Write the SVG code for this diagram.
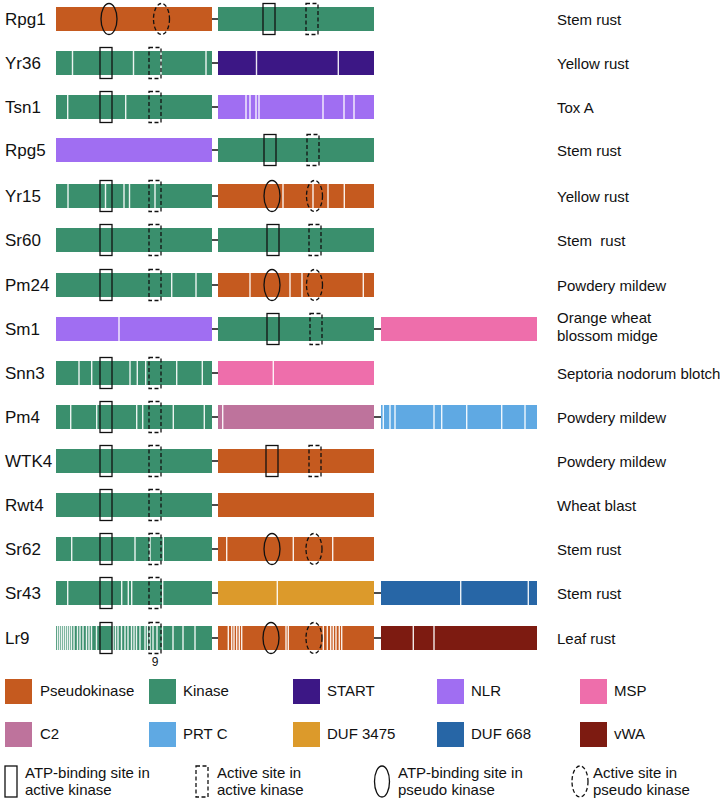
<svg xmlns="http://www.w3.org/2000/svg" width="720" height="799" viewBox="0 0 720 799">
<style>
text{font-family:"Liberation Sans",Arial,Helvetica,sans-serif;fill:#111}
.lab{font-size:17px}
.dis{font-size:15px}
.leg{font-size:15px}
.pk{fill:#C55A1F}.k{fill:#3A8F6D}.start{fill:#3C1785}.nlr{fill:#A06EF2}.msp{fill:#EE6EAB}
.c2{fill:#BE739C}.prt{fill:#5FA9E3}.duf3{fill:#DC9A2B}.duf6{fill:#2766A6}.vwa{fill:#7D1B11}
.st{stroke:#fff;stroke-width:1.4;fill:none;opacity:.9}
.sa{fill:none;stroke:#111;stroke-width:1.3}
.sd{fill:none;stroke:#111;stroke-width:1.3;stroke-dasharray:4 2.5}
.cn{stroke:#111;stroke-width:1.5}
</style>
<defs>
<rect id="ra" class="sa" x="0" y="-15.5" width="12" height="31"/>
<rect id="rd" class="sd" x="0" y="-15.5" width="12" height="31"/>
<ellipse id="ea" class="sa" cx="0" cy="0" rx="8" ry="15.5"/>
<ellipse id="ed" class="sd" cx="0" cy="0" rx="8" ry="15.5"/>
</defs>

<g id="connectors">
<path class="cn" d="M211 19H219M211 63H219M211 107H219M211 150H219M211 196H219M211 240H219M211 285H219M211 329H219M211 373H219M211 417H219M211 461H219M211 505H219M211 549H219M211 593H219M211 638H219"/>
<path class="cn" d="M373 329H382M373 417H382M373 593H382M373 638H382"/>
</g>

<g id="Rpg1" transform="translate(0,19)">
<rect class="pk" x="56" y="-12" width="156" height="24"/>
<rect class="k" x="218" y="-12" width="156" height="24"/>
<use href="#ea" x="109"/><use href="#ed" x="161.5"/>
<use href="#ra" x="263"/><use href="#rd" x="306"/>
<text class="lab" x="5" y="6">Rpg1</text><text class="dis" x="557" y="6">Stem rust</text>
</g>

<g id="Yr36" transform="translate(0,63)">
<rect class="k" x="56" y="-12" width="156" height="24"/>
<path class="st" d="M72.5 -12v24M133.5 -12v24M161 -12v24M206 -12v24"/>
<rect class="start" x="218" y="-12" width="156" height="24"/>
<path class="st" d="M256.5 -12v24M338.3 -12v24"/>
<use href="#ra" x="100"/><use href="#rd" x="149"/>
<text class="lab" x="5" y="6">Yr36</text><text class="dis" x="557" y="6">Yellow rust</text>
</g>

<g id="Tsn1" transform="translate(0,107)">
<rect class="k" x="56" y="-12" width="156" height="24"/>
<path class="st" d="M67.7 -12v24M125.7 -12v24"/>
<rect class="nlr" x="218" y="-12" width="156" height="24"/>
<path class="st" d="M246 -12v24M250 -12v24M256 -12v24M259 -12v24M323 -12v24M344 -12v24M354 -12v24"/>
<use href="#ra" x="100"/><use href="#rd" x="149"/>
<text class="lab" x="5" y="6">Tsn1</text><text class="dis" x="557" y="6">Tox A</text>
</g>

<g id="Rpg5" transform="translate(0,150)">
<rect class="nlr" x="56" y="-12" width="156" height="24"/>
<rect class="k" x="218" y="-12" width="156" height="24"/>
<use href="#ra" x="264"/><use href="#rd" x="307"/>
<text class="lab" x="5" y="6">Rpg5</text><text class="dis" x="557" y="6">Stem rust</text>
</g>

<g id="Yr15" transform="translate(0,196)">
<rect class="k" x="56" y="-12" width="156" height="24"/>
<path class="st" d="M68 -12v24M105.5 -12v24M124 -12v24M129.5 -12v24M155 -12v24"/>
<rect class="pk" x="218" y="-12" width="156" height="24"/>
<path class="st" d="M283 -12v24M313 -12v24M328 -12v24M344.3 -12v24"/>
<use href="#ra" x="100"/><use href="#rd" x="149"/>
<use href="#ea" x="272"/><use href="#ed" x="314.5"/>
<text class="lab" x="5" y="6">Yr15</text><text class="dis" x="557" y="6">Yellow rust</text>
</g>

<g id="Sr60" transform="translate(0,240)">
<rect class="k" x="56" y="-12" width="156" height="24"/>
<rect class="k" x="218" y="-12" width="156" height="24"/>
<use href="#ra" x="100"/><use href="#rd" x="149"/>
<use href="#ra" x="267"/><use href="#rd" x="309"/>
<text class="lab" x="5" y="6">Sr60</text><text class="dis" x="557" y="6" xml:space="preserve">Stem  rust</text>
</g>

<g id="Pm24" transform="translate(0,285)">
<rect class="k" x="56" y="-12" width="156" height="24"/>
<path class="st" d="M171.7 -12v24M196 -12v24"/>
<rect class="pk" x="218" y="-12" width="156" height="24"/>
<path class="st" d="M250 -12v24M290 -12v24M302 -12v24M363.3 -12v24"/>
<use href="#ra" x="100"/><use href="#rd" x="149"/>
<use href="#ea" x="272"/><use href="#ed" x="314.5"/>
<text class="lab" x="5" y="6">Pm24</text><text class="dis" x="557" y="6">Powdery mildew</text>
</g>

<g id="Sm1" transform="translate(0,329)">
<rect class="nlr" x="56" y="-12" width="156" height="24"/>
<path class="st" d="M119 -12v24"/>
<rect class="k" x="218" y="-12" width="156" height="24"/>
<rect class="msp" x="381" y="-12" width="156" height="24"/>
<use href="#ra" x="267"/><use href="#rd" x="310"/>
<text class="lab" x="5" y="6">Sm1</text>
<text class="dis" x="557" y="-6">Orange wheat</text><text class="dis" x="557" y="12">blossom midge</text>
</g>

<g id="Snn3" transform="translate(0,373)">
<rect class="k" x="56" y="-12" width="156" height="24"/>
<path class="st" d="M79 -12v24M91.7 -12v24M130 -12v24M137.3 -12v24M145.7 -12v24M176.7 -12v24M202.3 -12v24"/>
<rect class="msp" x="218" y="-12" width="156" height="24"/>
<path class="st" d="M273.3 -12v24"/>
<use href="#ra" x="100"/><use href="#rd" x="149"/>
<text class="lab" x="5" y="6">Snn3</text><text class="dis" x="557" y="6">Septoria nodorum blotch</text>
</g>

<g id="Pm4" transform="translate(0,417)">
<rect class="k" x="56" y="-12" width="156" height="24"/>
<path class="st" d="M70.7 -12v24M96.7 -12v24M136.7 -12v24M142.7 -12v24M173.3 -12v24M204.3 -12v24"/>
<rect class="c2" x="218" y="-12" width="156" height="24"/>
<path class="st" d="M222.7 -12v24"/>
<rect class="prt" x="381" y="-12" width="156" height="24"/>
<path class="st" d="M383.3 -12v24M390 -12v24M395 -12v24M434 -12v24M441.7 -12v24M466.7 -12v24M501.7 -12v24M525 -12v24"/>
<use href="#ra" x="100"/><use href="#rd" x="149"/>
<text class="lab" x="5" y="6">Pm4</text><text class="dis" x="557" y="6">Powdery mildew</text>
</g>

<g id="WTK4" transform="translate(0,461)">
<rect class="k" x="56" y="-12" width="156" height="24"/>
<rect class="pk" x="218" y="-12" width="156" height="24"/>
<use href="#ra" x="100"/><use href="#rd" x="149"/>
<use href="#ra" x="266"/><use href="#rd" x="309"/>
<text class="lab" x="5" y="6">WTK4</text><text class="dis" x="557" y="6">Powdery mildew</text>
</g>

<g id="Rwt4" transform="translate(0,505)">
<rect class="k" x="56" y="-12" width="156" height="24"/>
<rect class="pk" x="218" y="-12" width="156" height="24"/>
<use href="#ra" x="100"/><use href="#rd" x="149"/>
<text class="lab" x="5" y="6">Rwt4</text><text class="dis" x="557" y="6">Wheat blast</text>
</g>

<g id="Sr62" transform="translate(0,549)">
<rect class="k" x="56" y="-12" width="156" height="24"/>
<path class="st" d="M71.7 -12v24M135 -12v24M150 -12v24M163.3 -12v24"/>
<rect class="pk" x="218" y="-12" width="156" height="24"/>
<path class="st" d="M226.7 -12v24M293.3 -12v24M332.7 -12v24"/>
<use href="#ra" x="100"/><use href="#rd" x="149"/>
<use href="#ea" x="272"/><use href="#ed" x="314"/>
<text class="lab" x="5" y="6">Sr62</text><text class="dis" x="557" y="6">Stem rust</text>
</g>

<g id="Sr43" transform="translate(0,593)">
<rect class="k" x="56" y="-12" width="156" height="24"/>
<path class="st" d="M67.7 -12v24M121.7 -12v24M128.3 -12v24M131.7 -12v24M162.7 -12v24"/>
<rect class="duf3" x="218" y="-12" width="156" height="24"/>
<path class="st" d="M277.3 -12v24"/>
<rect class="duf6" x="381" y="-12" width="156" height="24"/>
<path class="st" d="M460.7 -12v24M528.3 -12v24"/>
<use href="#ra" x="100"/><use href="#rd" x="149"/>
<text class="lab" x="5" y="6">Sr43</text><text class="dis" x="557" y="6">Stem rust</text>
</g>

<g id="Lr9" transform="translate(0,638)">
<rect class="k" x="56" y="-12" width="156" height="24"/>
<path class="st" d="M57.5 -12v24M59.5 -12v24M61.5 -12v24M63.5 -12v24M65.5 -12v24M67.5 -12v24M69.5 -12v24M71.5 -12v24M74 -12v24M77.5 -12v24M80 -12v24M83 -12v24M86.5 -12v24M89 -12v24M91.5 -12v24M96.5 -12v24M113 -12v24M115.5 -12v24M118 -12v24M121.5 -12v24M125 -12v24M128 -12v24M131.5 -12v24M134 -12v24M136.5 -12v24M140 -12v24M145 -12v24M147.5 -12v24M150 -12v24M153 -12v24M157 -12v24M162.5 -12v24M173 -12v24M183 -12v24M195 -12v24"/>
<rect class="pk" x="218" y="-12" width="156" height="24"/>
<path class="st" d="M228.3 -12v24M231.7 -12v24M234 -12v24M236.7 -12v24M239.3 -12v24M241.7 -12v24M286 -12v24M288.3 -12v24M323.3 -12v24M327.3 -12v24M330.7 -12v24M333.3 -12v24M336 -12v24M339.3 -12v24M341.7 -12v24"/>
<rect class="vwa" x="381" y="-12" width="156" height="24"/>
<path class="st" d="M413.3 -12v24M434 -12v24"/>
<use href="#ra" x="100"/><use href="#rd" x="149"/>
<use href="#ea" x="271"/><use href="#ed" x="314"/>
<text class="lab" x="5" y="6">Lr9</text><text class="dis" x="557" y="6">Leaf rust</text>
<text x="155" y="28" font-size="12" text-anchor="middle">9</text>
</g>

<g id="legend">
<rect class="pk" x="5" y="679" width="27" height="25"/><text class="leg" x="40" y="696">Pseudokinase</text>
<rect class="k" x="149" y="679" width="27" height="25"/><text class="leg" x="183" y="696">Kinase</text>
<rect class="start" x="293" y="679" width="27" height="25"/><text class="leg" x="327" y="696">START</text>
<rect class="nlr" x="437" y="679" width="27" height="25"/><text class="leg" x="471" y="696">NLR</text>
<rect class="msp" x="580" y="679" width="27" height="25"/><text class="leg" x="614" y="696">MSP</text>
<rect class="c2" x="5" y="722" width="27" height="25"/><text class="leg" x="40" y="739">C2</text>
<rect class="prt" x="149" y="722" width="27" height="25"/><text class="leg" x="183" y="739">PRT C</text>
<rect class="duf3" x="293" y="722" width="27" height="25"/><text class="leg" x="327" y="739">DUF 3475</text>
<rect class="duf6" x="437" y="722" width="27" height="25"/><text class="leg" x="471" y="739">DUF 668</text>
<rect class="vwa" x="580" y="722" width="27" height="25"/><text class="leg" x="614" y="739">vWA</text>
<rect class="sa" x="5" y="766" width="12" height="31"/>
<text class="leg" x="25" y="778">ATP-binding site in</text><text class="leg" x="25" y="795">active kinase</text>
<rect class="sd" x="196" y="766" width="12" height="31"/>
<text class="leg" x="217" y="778">Active site in</text><text class="leg" x="217" y="795">active kinase</text>
<ellipse class="sa" cx="382" cy="781.5" rx="7.5" ry="15.5"/>
<text class="leg" x="398" y="778">ATP-binding site in</text><text class="leg" x="398" y="795">pseudo kinase</text>
<ellipse class="sd" cx="580" cy="781.5" rx="8" ry="15.5"/>
<text class="leg" x="593" y="778">Active site in</text><text class="leg" x="593" y="795">pseudo kinase</text>
</g>
</svg>
